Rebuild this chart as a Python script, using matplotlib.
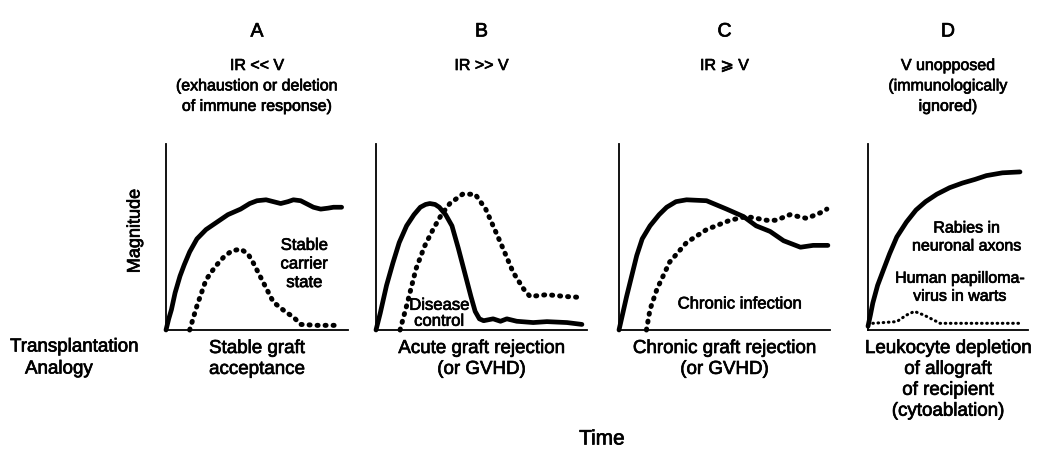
import matplotlib
matplotlib.use("Agg")
import matplotlib.pyplot as plt
import matplotlib.patheffects as pe

plt.rcParams['font.family'] = ['Liberation Sans', 'DejaVu Sans']
# the scanned lettering is a bit heavier than plain Liberation
heavy = [pe.withStroke(linewidth=0.5, foreground='black')]

# curves, x and y as fractions of each small panel
a_solid_x = [0.0, 0.015, 0.03, 0.05, 0.077, 0.10, 0.13, 0.17, 0.22, 0.28, 0.34, 0.41, 0.46, 0.50, 0.55, 0.59, 0.63, 0.67, 0.70, 0.74, 0.77, 0.81, 0.85, 0.89, 0.92, 0.965]
a_solid_y = [0.0, 0.06, 0.11, 0.20, 0.29, 0.35, 0.42, 0.49, 0.54, 0.58, 0.62, 0.65, 0.68, 0.695, 0.70, 0.69, 0.68, 0.69, 0.70, 0.695, 0.68, 0.66, 0.65, 0.655, 0.66, 0.66]
a_dot_x = [0.13, 0.17, 0.22, 0.27, 0.315, 0.36, 0.41, 0.45, 0.48, 0.535, 0.59, 0.66, 0.70, 0.74, 0.83, 0.95]
a_dot_y = [0.0, 0.13, 0.27, 0.34, 0.39, 0.425, 0.435, 0.41, 0.36, 0.255, 0.15, 0.095, 0.07, 0.03, 0.025, 0.025]

b_solid_x = [0.0, 0.02, 0.05, 0.08, 0.11, 0.145, 0.18, 0.21, 0.235, 0.255, 0.28, 0.30, 0.33, 0.36, 0.39, 0.42, 0.45, 0.47, 0.49, 0.51, 0.555, 0.59, 0.62, 0.667, 0.745, 0.81, 0.905, 0.976]
b_solid_y = [0.0, 0.09, 0.24, 0.36, 0.47, 0.56, 0.62, 0.66, 0.675, 0.68, 0.675, 0.66, 0.62, 0.56, 0.44, 0.31, 0.18, 0.10, 0.06, 0.05, 0.06, 0.047, 0.06, 0.047, 0.04, 0.045, 0.04, 0.03]
b_dot_x = [0.114, 0.145, 0.19, 0.23, 0.27, 0.31, 0.35, 0.41, 0.47, 0.52, 0.59, 0.65, 0.70, 0.73, 0.81, 0.90, 0.976]
b_dot_y = [0.0, 0.13, 0.33, 0.45, 0.54, 0.62, 0.68, 0.73, 0.73, 0.65, 0.47, 0.31, 0.22, 0.18, 0.19, 0.18, 0.175]

c_solid_x = [0.0, 0.036, 0.084, 0.11, 0.147, 0.19, 0.226, 0.27, 0.32, 0.415, 0.51, 0.59, 0.65, 0.716, 0.78, 0.86, 0.92, 0.99]
c_solid_y = [0.0, 0.18, 0.40, 0.49, 0.56, 0.62, 0.66, 0.69, 0.70, 0.695, 0.65, 0.61, 0.56, 0.53, 0.48, 0.445, 0.455, 0.455]
c_dot_x = [0.13, 0.147, 0.18, 0.24, 0.32, 0.415, 0.526, 0.605, 0.70, 0.745, 0.81, 0.89, 0.954, 0.985]
c_dot_y = [0.0, 0.11, 0.22, 0.365, 0.47, 0.54, 0.59, 0.61, 0.59, 0.59, 0.62, 0.60, 0.63, 0.65]

d_solid_x = [0.0, 0.015, 0.03, 0.06, 0.095, 0.135, 0.18, 0.24, 0.30, 0.36, 0.43, 0.51, 0.59, 0.67, 0.74, 0.84, 0.95]
d_solid_y = [0.02, 0.08, 0.145, 0.24, 0.32, 0.41, 0.50, 0.58, 0.645, 0.69, 0.73, 0.765, 0.79, 0.81, 0.83, 0.845, 0.85]
d_dot_x = [0.03, 0.18, 0.24, 0.29, 0.35, 0.41, 0.45, 0.96]
d_dot_y = [0.036, 0.045, 0.08, 0.10, 0.08, 0.054, 0.036, 0.036]

panel_letters = ['A', 'B', 'C', 'D']
panel_conditions = ['IR << V\n(exhaustion or deletion\nof immune response)',
                    'IR >> V',
                    'IR \u2a7e V',
                    'V unopposed\n(immunologically\nignored)']
analogies = ['Stable graft\nacceptance',
             'Acute graft rejection\n(or GVHD)',
             'Chronic graft rejection\n(or GVHD)',
             'Leukocyte depletion\nof allograft\nof recipient\n(cytoablation)']

W, H = 1050, 456
fig = plt.figure(figsize=(W / 100, H / 100), dpi=100)

# panel boxes in pixels: left, right, top, bottom
boxes = [(166, 348, 145, 331), (376, 587, 145, 331), (619, 830, 145, 331), (868, 1028, 145, 331)]
curves = [(a_solid_x, a_solid_y, a_dot_x, a_dot_y),
          (b_solid_x, b_solid_y, b_dot_x, b_dot_y),
          (c_solid_x, c_solid_y, c_dot_x, c_dot_y),
          (d_solid_x, d_solid_y, d_dot_x, d_dot_y)]

axes = []
for i, (l, r, t, b) in enumerate(boxes):
    ax = fig.add_axes([l / W, 1 - b / H, (r - l) / W, (b - t) / H])
    ax.set_xlim(0, 1)
    ax.set_ylim(0, 1)
    for s in ['top', 'right']:
        ax.spines[s].set_visible(False)
    for s in ['left', 'bottom']:
        ax.spines[s].set_linewidth(1.3)
    ax.set_xticks([])
    ax.set_yticks([])
    sx, sy, dx, dy = curves[i]
    ax.plot(sx, sy, color='black', lw=3.4, solid_capstyle='round', solid_joinstyle='round',
            clip_on=False)
    if i < 3:
        ax.plot(dx, dy, color='black', lw=3.6, linestyle=(0, (0.2, 1.4)),
                dash_capstyle='round', clip_on=False)
    else:
        ax.plot(dx, dy, color='black', lw=2.2, linestyle=(0, (0.2, 1.5)),
                dash_capstyle='round', clip_on=False)
    axes.append(ax)

    cx = (l + r) / 2 / W
    fig.text(cx, 1 - 33 / H, panel_letters[i], ha='center', va='center', fontsize=14,
             path_effects=heavy)
    fig.text(cx, 1 - 59 / H, panel_conditions[i], ha='center', va='top', fontsize=11.5,
             linespacing=1.45, path_effects=heavy)
    fig.text(cx, 1 - 341 / H, analogies[i], ha='center', va='top', fontsize=13.5,
             linespacing=1.3, path_effects=heavy)

axes[0].text(0.76, 0.355, 'Stable\ncarrier\nstate', ha='center', va='center', fontsize=12,
             linespacing=1.3, path_effects=heavy)
axes[1].text(0.30, 0.09, 'Disease\ncontrol', ha='center', va='center', fontsize=12,
             linespacing=1.08, zorder=5, path_effects=heavy)
axes[2].text(0.573, 0.14, 'Chronic infection', ha='center', va='center', fontsize=12,
             path_effects=heavy)
axes[3].text(0.617, 0.50, 'Rabies in\nneuronal axons', ha='center', va='center', fontsize=11.5,
             linespacing=1.25, path_effects=heavy)
axes[3].text(0.575, 0.23, 'Human papilloma-\nvirus in warts', ha='center', va='center', fontsize=11.5,
             linespacing=1.25, path_effects=heavy)

fig.text(135 / W, 1 - 232 / H, 'Magnitude', rotation=90, ha='center', va='center', fontsize=13,
         path_effects=heavy)
fig.text(10 / W, 1 - 348 / H, 'Transplantation', ha='left', va='center', fontsize=13.5,
         path_effects=heavy)
fig.text(25 / W, 1 - 370 / H, 'Analogy', ha='left', va='center', fontsize=13.5,
         path_effects=heavy)
fig.text(602 / W, 1 - 440 / H, 'Time', ha='center', va='center', fontsize=15,
         path_effects=heavy)

fig.savefig('out.png', dpi=100)
